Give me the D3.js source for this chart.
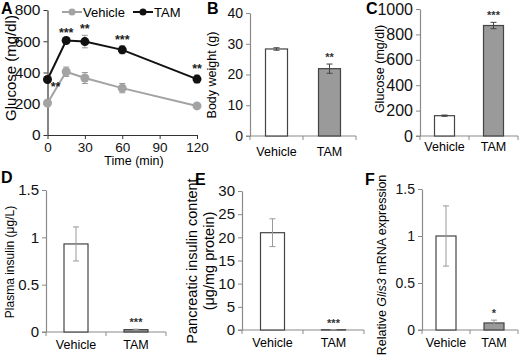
<!DOCTYPE html>
<html><head><meta charset="utf-8">
<script src="https://cdn.jsdelivr.net/npm/d3@7"></script>
<style>body{margin:0;background:#fff}svg{display:block}text{font-family:"Liberation Sans",Arial,sans-serif}</style>
</head><body>
<svg id="c" width="520" height="360"></svg>
<script>
const categories = ["Vehicle", "TAM"];
const timeMin = [0, 15, 30, 60, 120];
const vehicleGlucose = [205, 405, 365, 300, 186];
const vehicleGlucoseErr = [8, 30, 35, 30, 8];
const tamGlucose = [355, 605, 598, 545, 358];
const tamGlucoseErr = [12, 12, 40, 25, 25];
const glucoseStars = ["**", "***", "**", "***", "**"];
const glucoseTicksY = [0, 200, 400, 600, 800];
const timeTicks = [0, 30, 60, 90, 120];

const bodyWeight = [28.3, 21.9];
const bodyWeightErr = [0.4, 1.5];
const bodyWeightStars = ["", "**"];
const bodyWeightTicks = [0, 10, 20, 30, 40];

const fedGlucose = [160, 870];
const fedGlucoseErr = [5, 25];
const fedGlucoseStars = ["", "***"];
const fedGlucoseTicks = [0, 200, 400, 600, 800, 1000];

const plasmaInsulin = [0.93, 0.025];
const plasmaInsulinErr = [0.18, 0.005];
const plasmaInsulinStars = ["", "***"];
const plasmaInsulinTicks = [0, 0.5, 1, 1.5];

const pancInsulin = [21, 0.05];
const pancInsulinErr = [3, 0.02];
const pancInsulinStars = ["", "***"];
const pancInsulinTicks = [0, 5, 10, 15, 20, 25, 30];

const glis3 = [1.0, 0.075];
const glis3Err = [0.32, 0.03];
const glis3Stars = ["", "*"];
const glis3Ticks = [0, 0.5, 1, 1.5];

const svg = d3.select("#c");
const AX = "#8a8a8a";

function letter(t, x, y) {
  svg.append("text").attr("x", x).attr("y", y).attr("font-size", 16).attr("font-weight", "bold").text(t);
}

function styleAxis(g, col, fs) {
  g.selectAll("path.domain").attr("stroke", col).attr("stroke-width", 1.2);
  g.selectAll(".tick line").attr("stroke", col);
  g.selectAll(".tick text").attr("fill", "#111").attr("font-size", fs)
    .attr("font-family", '"Liberation Sans",Arial,sans-serif');
}

// ---------- Panel A ----------
(function () {
  const x = d3.scaleLinear().domain([0, 120]).range([47.5, 197]);
  const y = d3.scaleLinear().domain([0, 800]).range([135, 10]);
  const gy = svg.append("g").attr("transform", `translate(${x(0)},0)`)
    .call(d3.axisLeft(y).tickValues(glucoseTicksY).tickSize(4).tickSizeOuter(0).tickPadding(3));
  styleAxis(gy, "#333", 15.5);
  const gx = svg.append("g").attr("transform", `translate(0,${y(0)})`)
    .call(d3.axisBottom(x).tickValues(timeTicks).tickSize(4).tickSizeOuter(0).tickPadding(3));
  styleAxis(gx, "#333", 13.5);
  svg.append("text").attr("transform", `translate(16,68) rotate(-90)`).attr("text-anchor", "middle")
    .attr("font-size", 15).text("Glucose (mg/dl)");
  svg.append("text").attr("x", 134).attr("y", 165).attr("text-anchor", "middle")
    .attr("font-size", 12.5).text("Time (min)");

  const series = [
    { v: vehicleGlucose, e: vehicleGlucoseErr, col: "#a3a3a3" },
    { v: tamGlucose, e: tamGlucoseErr, col: "#111" }
  ];
  series.forEach(s => {
    const pts = timeMin.map((t, i) => ({ t, v: s.v[i], e: s.e[i] }));
    const eg = svg.append("g");
    pts.forEach(p => {
      eg.append("line").attr("x1", x(p.t)).attr("x2", x(p.t)).attr("y1", y(p.v - p.e)).attr("y2", y(p.v + p.e))
        .attr("stroke", "#999").attr("stroke-width", 1);
      [p.v - p.e, p.v + p.e].forEach(w => eg.append("line").attr("x1", x(p.t) - 3).attr("x2", x(p.t) + 3)
        .attr("y1", y(w)).attr("y2", y(w)).attr("stroke", "#999").attr("stroke-width", 1));
    });
    svg.append("path").datum(pts).attr("fill", "none").attr("stroke", s.col).attr("stroke-width", 2)
      .attr("d", d3.line().x(d => x(d.t)).y(d => y(d.v)));
    svg.selectAll(null).data(pts).enter().append("circle").attr("cx", d => x(d.t)).attr("cy", d => y(d.v))
      .attr("r", 4.5).attr("fill", s.col);
  });
  // stars
  timeMin.forEach((t, i) => {
    const isFirst = i === 0;
    svg.append("text")
      .attr("x", isFirst ? x(t) + 8 : x(t))
      .attr("y", isFirst ? y(tamGlucose[i]) + 11 : y(tamGlucose[i] + tamGlucoseErr[i]) - 2)
      .attr("text-anchor", "middle").attr("font-size", 12.5).attr("font-weight", "bold").attr("fill", "#222")
      .text(glucoseStars[i]);
  });
  // legend
  const ly = 12;
  const leg = [{ n: "Vehicle", col: "#a3a3a3", x0: 62 }, { n: "TAM", col: "#111", x0: 133 }];
  leg.forEach(l => {
    svg.append("line").attr("x1", l.x0).attr("x2", l.x0 + 20).attr("y1", ly).attr("y2", ly)
      .attr("stroke", l.col).attr("stroke-width", 2);
    svg.append("circle").attr("cx", l.x0 + 10).attr("cy", ly).attr("r", 3.5).attr("fill", l.col);
    svg.append("text").attr("x", l.x0 + 21).attr("y", ly + 5).attr("font-size", 13).text(l.n);
  });
  letter("A", 1, 14);
})();

// ---------- bar panels ----------
function barPanel(o) {
  const x = d3.scaleBand().domain(categories).range(o.xr);
  const y = d3.scaleLinear().domain([0, d3.max(o.ticks)]).range(o.yr);
  const gy = svg.append("g").attr("transform", `translate(${o.xr[0]},0)`)
    .call(d3.axisLeft(y).tickValues(o.ticks).tickFormat(d => String(d)).tickSize(4).tickSizeOuter(0).tickPadding(3));
  styleAxis(gy, AX, o.fs);
  const gx = svg.append("g").attr("transform", `translate(0,${o.yr[0]})`);
  gx.append("line").attr("x1", o.xr[0] - 4).attr("x2", o.xr[1]).attr("stroke", AX).attr("stroke-width", 1.2);
  [o.xr[0], (o.xr[0] + o.xr[1]) / 2, o.xr[1]].forEach(tx =>
    gx.append("line").attr("x1", tx).attr("x2", tx).attr("y1", 0).attr("y2", 4).attr("stroke", AX));
  categories.forEach(c => svg.append("text").attr("x", x(c) + x.bandwidth() / 2).attr("y", o.yr[0] + o.cy)
    .attr("text-anchor", "middle").attr("font-size", 12.5).text(c));
  const cx = c => x(c) + x.bandwidth() / 2;
  svg.selectAll(null).data(categories).enter().append("rect")
    .attr("x", c => cx(c) - o.bw / 2).attr("width", o.bw)
    .attr("y", (c, i) => y(o.vals[i])).attr("height", (c, i) => y(0) - y(o.vals[i]))
    .attr("fill", (c, i) => i === 0 ? "#fff" : "#9a9a9a").attr("stroke", "#444").attr("stroke-width", 1.2);
  categories.forEach((c, i) => {
    const lo = y(o.vals[i] - o.err[i]), hi = y(o.vals[i] + o.err[i]);
    svg.append("line").attr("x1", cx(c)).attr("x2", cx(c)).attr("y1", lo).attr("y2", hi).attr("stroke", o.ec).attr("stroke-width", 1);
    [lo, hi].forEach(w => svg.append("line").attr("x1", cx(c) - 3).attr("x2", cx(c) + 3).attr("y1", w).attr("y2", w)
      .attr("stroke", o.ec).attr("stroke-width", 1));
    if (o.stars[i]) svg.append("text").attr("x", cx(c)).attr("y", hi - 3).attr("text-anchor", "middle")
      .attr("font-size", 11).attr("font-weight", "bold").attr("fill", "#333").text(o.stars[i]);
  });
  o.label(svg);
  letter(o.letter, o.lx, o.ly);
}

barPanel({
  xr: [250, 356], yr: [136, 13], ticks: bodyWeightTicks, vals: bodyWeight, err: bodyWeightErr, stars: bodyWeightStars,
  bw: 22, fs: 14, ec: "#444", cy: 20, letter: "B", lx: 207, ly: 14,
  label: s => s.append("text").attr("transform", "translate(216,75) rotate(-90)").attr("text-anchor", "middle")
    .attr("font-size", 12.5).text("Body weight (g)")
});
barPanel({
  xr: [420, 518], yr: [136, 9], ticks: fedGlucoseTicks, vals: fedGlucose, err: fedGlucoseErr, stars: fedGlucoseStars,
  bw: 20, fs: 16, ec: "#444", cy: 15, letter: "C", lx: 366, ly: 14,
  label: s => s.append("text").attr("transform", "translate(384,69) rotate(-90)").attr("text-anchor", "middle")
    .attr("font-size", 12.5).text("Glucose (mg/dl)")
});
barPanel({
  xr: [46, 166], yr: [332, 190], ticks: plasmaInsulinTicks, vals: plasmaInsulin, err: plasmaInsulinErr, stars: plasmaInsulinStars,
  bw: 24, fs: 15, ec: "#999", cy: 17, letter: "D", lx: 1, ly: 183,
  label: s => s.append("text").attr("transform", "translate(14,262) rotate(-90)").attr("text-anchor", "middle")
    .attr("font-size", 12).text("Plasma insulin (μg/L)")
});
barPanel({
  xr: [242, 364], yr: [330, 191], ticks: pancInsulinTicks, vals: pancInsulin, err: pancInsulinErr, stars: pancInsulinStars,
  bw: 24, fs: 15, ec: "#999", cy: 17, letter: "E", lx: 195, ly: 185,
  label: s => {
    s.append("text").attr("transform", "translate(197,261) rotate(-90)").attr("text-anchor", "middle")
      .attr("font-size", 14.5).text("Pancreatic insulin content");
    s.append("text").attr("transform", "translate(214,261) rotate(-90)").attr("text-anchor", "middle")
      .attr("font-size", 14.5).text("(μg/mg protein)");
  }
});
barPanel({
  xr: [422, 518], yr: [330, 189], ticks: glis3Ticks, vals: glis3, err: glis3Err, stars: glis3Stars,
  bw: 20, fs: 14, ec: "#999", cy: 17, letter: "F", lx: 365, ly: 185,
  label: s => {
    const t = s.append("text").attr("transform", "translate(386,265) rotate(-90)").attr("text-anchor", "middle")
      .attr("font-size", 12.5);
    t.append("tspan").text("Relative ");
    t.append("tspan").attr("font-style", "italic").text("Glis3");
    t.append("tspan").text(" mRNA expression");
  }
});
</script>
</body></html>
